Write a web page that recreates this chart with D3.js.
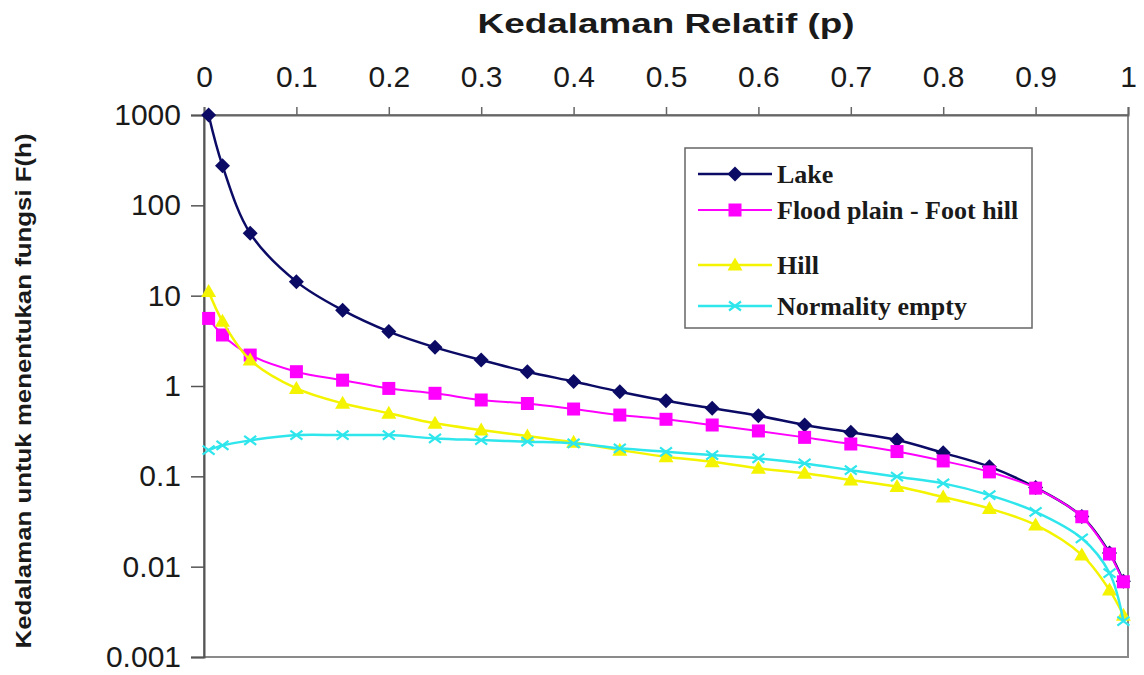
<!DOCTYPE html>
<html>
<head>
<meta charset="utf-8">
<script src="https://cdn.jsdelivr.net/npm/d3@7/dist/d3.min.js"></script>
<style>
  html, body { margin: 0; padding: 0; background: #fff; }
  svg { display: block; }
</style>
</head>
<body>
<svg id="chart" width="1144" height="675"></svg>
<script>
// Relative depth p at which each series was evaluated
const depthP = [0.005, 0.02, 0.05, 0.1, 0.15, 0.2, 0.25, 0.3, 0.35, 0.4, 0.45, 0.5,
                0.55, 0.6, 0.65, 0.7, 0.75, 0.8, 0.85, 0.9, 0.95, 0.98, 0.995];

// F(h) values per landform
const lake = [1000, 275, 49, 14.3, 6.9, 4.0, 2.68, 1.94, 1.44, 1.12, 0.865, 0.687,
              0.567, 0.469, 0.37, 0.307, 0.252, 0.182, 0.128, 0.075, 0.036, 0.0142, 0.0069];
const floodPlain = [5.6, 3.67, 2.2, 1.44, 1.16, 0.94, 0.83, 0.70, 0.64, 0.556, 0.477, 0.428,
                    0.37, 0.318, 0.27, 0.228, 0.188, 0.148, 0.112, 0.074, 0.0357, 0.0138, 0.0068];
const hill = [11.1, 5.2, 1.94, 0.94, 0.643, 0.5, 0.386, 0.326, 0.28, 0.238, 0.195, 0.165,
              0.145, 0.123, 0.108, 0.091, 0.077, 0.059, 0.044, 0.029, 0.0135, 0.0055, 0.0029];
const normalityEmpty = [0.195, 0.22, 0.25, 0.286, 0.286, 0.286, 0.263, 0.252, 0.242, 0.232, 0.204, 0.187,
                        0.172, 0.158, 0.139, 0.117, 0.099, 0.0836, 0.062, 0.0405, 0.0206, 0.0085, 0.0025];

const seriesNames = ["Lake", "Flood plain - Foot hill", "Hill", "Normality empty"];

// Axis ticks
const xTickValues = [0, 0.1, 0.2, 0.3, 0.4, 0.5, 0.6, 0.7, 0.8, 0.9, 1];
const xTickLabels = ["0", "0.1", "0.2", "0.3", "0.4", "0.5", "0.6", "0.7", "0.8", "0.9", "1"];
const yTickValues = [1000, 100, 10, 1, 0.1, 0.01, 0.001];
const yTickLabels = ["1000", "100", "10", "1", "0.1", "0.01", "0.001"];

const xTitle = "Kedalaman Relatif (p)";
const yTitle = "Kedalaman untuk menentukan fungsi F(h)";

// ---- layout ----
const svg = d3.select("#chart");
const plot = { left: 204, right: 1128, top: 115, bottom: 657 };

const x = d3.scaleLinear().domain([0, 1]).range([plot.left, plot.right]);
const y = d3.scaleLog().domain([0.001, 1000]).range([plot.bottom, plot.top]);

svg.append("rect").attr("width", 1144).attr("height", 675).attr("fill", "#fff");

// plot frame
svg.append("rect")
  .attr("x", plot.left).attr("y", plot.top)
  .attr("width", plot.right - plot.left).attr("height", plot.bottom - plot.top)
  .attr("fill", "none").attr("stroke", "#8a8a8a").attr("stroke-width", 2);

// top x axis
const xAxis = svg.append("g")
  .attr("transform", `translate(0,${plot.top})`)
  .call(d3.axisTop(x).tickValues(xTickValues)
        .tickFormat((d, i) => xTickLabels[i]).tickSize(8).tickPadding(20));
xAxis.select(".domain").attr("stroke", "#666").attr("stroke-width", 2);
xAxis.selectAll(".tick line").attr("stroke", "#666").attr("stroke-width", 1.5);
xAxis.selectAll(".tick text")
  .attr("font-family", "Liberation Sans, Arial, sans-serif")
  .attr("font-size", 30).attr("fill", "#1a1a1a");

// left y axis
const yAxis = svg.append("g")
  .attr("transform", `translate(${plot.left},0)`)
  .call(d3.axisLeft(y).tickValues(yTickValues)
        .tickFormat((d, i) => yTickLabels[i]).tickSize(13).tickPadding(10));
yAxis.select(".domain").attr("stroke", "#555").attr("stroke-width", 2);
yAxis.selectAll(".tick line").attr("stroke", "#555").attr("stroke-width", 1.5);
yAxis.selectAll(".tick text")
  .attr("font-family", "Liberation Sans, Arial, sans-serif")
  .attr("font-size", 30).attr("fill", "#1a1a1a");

// axis titles
svg.append("text")
  .attr("x", 666).attr("y", 33)
  .attr("text-anchor", "middle")
  .attr("font-family", "Liberation Sans, Arial, sans-serif")
  .attr("font-weight", "bold").attr("font-size", 27).attr("fill", "#1a1a1a")
  .attr("textLength", 377).attr("lengthAdjust", "spacingAndGlyphs")
  .text(xTitle);

svg.append("text")
  .attr("transform", `translate(31,${(plot.top + plot.bottom) / 2 + 5}) rotate(-90)`)
  .attr("text-anchor", "middle")
  .attr("font-family", "Liberation Sans, Arial, sans-serif")
  .attr("font-weight", "bold").attr("font-size", 22).attr("fill", "#1a1a1a")
  .attr("textLength", 515).attr("lengthAdjust", "spacingAndGlyphs")
  .text(yTitle);

// ---- markers ----
function drawMarker(g, kind, cx, cy, color) {
  if (kind === "diamond") {
    g.append("path").attr("d", `M${cx},${cy - 7.5}L${cx + 7.5},${cy}L${cx},${cy + 7.5}L${cx - 7.5},${cy}Z`)
      .attr("fill", color);
  } else if (kind === "square") {
    g.append("rect").attr("x", cx - 6.5).attr("y", cy - 6.5).attr("width", 13).attr("height", 13)
      .attr("fill", color);
  } else if (kind === "triangle") {
    g.append("path").attr("d", `M${cx},${cy - 7.5}L${cx + 7.5},${cy + 5.5}L${cx - 7.5},${cy + 5.5}Z`)
      .attr("fill", color);
  } else if (kind === "cross") {
    g.append("path").attr("d", `M${cx - 6},${cy - 4.5}L${cx + 6},${cy + 4.5}M${cx - 6},${cy + 4.5}L${cx + 6},${cy - 4.5}`)
      .attr("stroke", color).attr("stroke-width", 2.2).attr("fill", "none");
  }
}

const series = [
  { name: seriesNames[0], values: lake,           color: "#0b0b66", width: 2.5, marker: "diamond" },
  { name: seriesNames[1], values: floodPlain,     color: "#ff00ff", width: 2,   marker: "square" },
  { name: seriesNames[2], values: hill,           color: "#f4f400", width: 2.5, marker: "triangle" },
  { name: seriesNames[3], values: normalityEmpty, color: "#2ee6ec", width: 2.5, marker: "cross" }
];

const line = d3.line()
  .x(d => x(d.p))
  .y(d => y(d.v))
  .curve(d3.curveCatmullRom.alpha(0.5));

const marks = svg.append("g");
series.forEach(s => {
  const pts = depthP.map((p, i) => ({ p, v: s.values[i] }));
  const g = marks.append("g");
  g.append("path").datum(pts)
    .attr("d", line).attr("fill", "none")
    .attr("stroke", s.color).attr("stroke-width", s.width);
  pts.forEach(d => drawMarker(g, s.marker, x(d.p), y(d.v), s.color));
});

// ---- legend ----
const legend = svg.append("g");
legend.append("rect")
  .attr("x", 685).attr("y", 148).attr("width", 347).attr("height", 180)
  .attr("fill", "#fff").attr("stroke", "#666").attr("stroke-width", 1.5);

const legendRows = [174, 210, 265, 306];
series.forEach((s, i) => {
  const ly = legendRows[i];
  legend.append("line")
    .attr("x1", 698).attr("x2", 772).attr("y1", ly).attr("y2", ly)
    .attr("stroke", s.color).attr("stroke-width", s.width);
  drawMarker(legend, s.marker, 735, ly, s.color);
  legend.append("text")
    .attr("x", 777).attr("y", ly).attr("dy", "0.33em")
    .attr("font-family", "Liberation Serif, Times New Roman, serif")
    .attr("font-weight", "bold").attr("font-size", 26).attr("fill", "#1a1a1a")
    .text(s.name);
});
</script>
</body>
</html>
